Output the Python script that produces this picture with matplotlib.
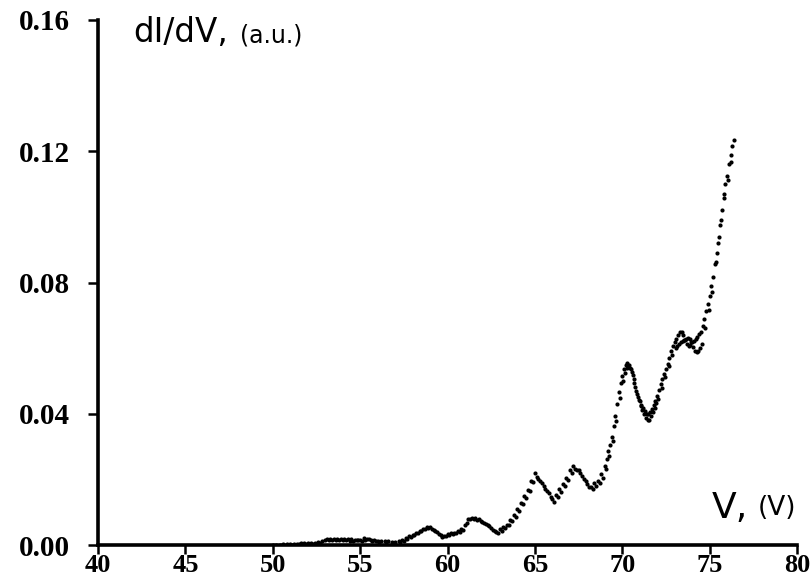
import matplotlib
matplotlib.use("Agg")
import matplotlib.pyplot as plt

# Tunneling spectrum: dI/dV versus bias voltage, two overlapping sweeps
sweep_a_v = [50.0, 50.2, 50.4, 50.6, 50.8, 51.0, 51.2, 51.4, 51.6, 51.8,
             52.0, 52.2, 52.4, 52.6, 52.8, 53.0, 53.2, 53.4, 53.6, 53.8,
             54.0, 54.2, 54.4, 54.6, 54.8, 55.0, 55.2, 55.4, 55.6, 55.8,
             56.0, 56.2, 56.4, 56.6, 56.8, 57.0, 57.2, 57.4, 57.6, 57.8,
             58.0, 58.2, 58.4, 58.6, 58.8, 59.0, 59.2, 59.4, 59.6, 59.8,
             60.0, 60.2, 60.4, 60.6, 60.8, 61.0, 61.2, 61.4, 61.6, 61.8,
             62.0, 62.2, 62.4, 62.6, 62.8, 63.0, 63.2, 63.4, 63.6, 63.8,
             64.0, 64.2, 64.4, 64.6, 64.8, 65.0, 65.2, 65.4, 65.6, 65.8,
             66.0, 66.2, 66.4, 66.6, 66.8, 67.0, 67.2, 67.4, 67.6, 67.8,
             68.0, 68.2, 68.4, 68.6, 68.8, 69.0, 69.1, 69.2, 69.3, 69.4,
             69.5, 69.6, 69.7, 69.8, 69.9, 70.0, 70.1, 70.2, 70.3, 70.4,
             70.5, 70.6, 70.7, 70.8, 70.9, 71.0, 71.1, 71.2, 71.3, 71.4,
             71.5, 71.6, 71.7, 71.8, 71.9, 72.0, 72.1, 72.2, 72.3, 72.4,
             72.5, 72.6, 72.7, 72.8, 72.9, 73.0, 73.1, 73.2, 73.3, 73.4,
             73.5, 73.6, 73.7, 73.8, 73.9, 74.0, 74.1, 74.2, 74.3, 74.4,
             74.5, 74.6, 74.7, 74.8, 74.9, 75.0, 75.1, 75.2, 75.3, 75.4,
             75.5, 75.6, 75.7, 75.8, 75.9, 76.0, 76.1, 76.2, 76.3, 76.4]
sweep_a_g = [0.0000, 0.0001, 0.0001, 0.0002, 0.0002, 0.0003, 0.0004, 0.0004, 0.0005, 0.0005,
             0.0006, 0.0006, 0.0007, 0.0008, 0.0012, 0.0015, 0.0016, 0.0016, 0.0016, 0.0015,
             0.0015, 0.0014, 0.0013, 0.0013, 0.0014, 0.0016, 0.0020, 0.0017, 0.0014, 0.0015,
             0.0013, 0.0012, 0.0012, 0.0011, 0.0010, 0.0009, 0.0011, 0.0015, 0.0020, 0.0026,
             0.0032, 0.0037, 0.0042, 0.0050, 0.0056, 0.0054, 0.0047, 0.0040, 0.0030, 0.0028,
             0.0033, 0.0036, 0.0038, 0.0042, 0.0048, 0.0060, 0.0078, 0.0083, 0.0082, 0.0078,
             0.0071, 0.0065, 0.0058, 0.0046, 0.0040, 0.0048, 0.0056, 0.0062, 0.0075, 0.0090,
             0.0110, 0.0128, 0.0148, 0.0168, 0.0195, 0.0220, 0.0200, 0.0188, 0.0172, 0.0158,
             0.0140, 0.0152, 0.0170, 0.0185, 0.0205, 0.0228, 0.0240, 0.0230, 0.0218, 0.0200,
             0.0185, 0.0178, 0.0188, 0.0195, 0.0215, 0.0240, 0.0262, 0.0285, 0.0305, 0.0330,
             0.0362, 0.0392, 0.0430, 0.0465, 0.0495, 0.0515, 0.0535, 0.0550, 0.0556, 0.0548,
             0.0535, 0.0518, 0.0495, 0.0470, 0.0452, 0.0440, 0.0428, 0.0418, 0.0408, 0.0400,
             0.0398, 0.0405, 0.0415, 0.0428, 0.0440, 0.0455, 0.0472, 0.0490, 0.0505, 0.0520,
             0.0535, 0.0552, 0.0570, 0.0590, 0.0605, 0.0618, 0.0628, 0.0640, 0.0648, 0.0650,
             0.0640, 0.0625, 0.0612, 0.0605, 0.0610, 0.0618, 0.0622, 0.0628, 0.0635, 0.0642,
             0.0650, 0.0668, 0.0690, 0.0712, 0.0735, 0.0760, 0.0790, 0.0818, 0.0855, 0.0890,
             0.0920, 0.0975, 0.1020, 0.1070, 0.1100, 0.1125, 0.1160, 0.1190, 0.1215, 0.1235]

sweep_b_v = [51.1, 51.5, 51.9, 52.3, 52.7, 53.1, 53.3, 53.5, 53.7, 53.9,
             54.1, 54.3, 54.5, 54.7, 54.9, 55.1, 55.3, 55.5, 55.7, 55.9,
             56.1, 56.5, 56.9, 57.3, 57.5, 57.7, 57.9, 58.1, 58.3, 58.5,
             58.7, 58.9, 59.1, 59.3, 59.5, 59.7, 59.9, 60.1, 60.3, 60.5,
             60.7, 60.9, 61.1, 61.3, 61.5, 61.7, 61.9, 62.1, 62.3, 62.5,
             62.7, 62.9, 63.1, 63.3, 63.5, 63.7, 63.9, 64.1, 64.3, 64.5,
             64.7, 64.9, 65.1, 65.3, 65.5, 65.7, 65.9, 66.1, 66.3, 66.5,
             66.7, 66.9, 67.1, 67.3, 67.5, 67.7, 67.9, 68.1, 68.3, 68.5,
             68.7, 68.9, 69.05, 69.25, 69.45, 69.65, 69.85, 70.05, 70.15, 70.25,
             70.35, 70.45, 70.55, 70.65, 70.75, 70.85, 70.95, 71.05, 71.15, 71.25,
             71.35, 71.45, 71.55, 71.65, 71.75, 71.85, 71.95, 72.05, 72.25, 72.45,
             72.65, 72.85, 73.05, 73.15, 73.25, 73.35, 73.45, 73.55, 73.65, 73.75,
             73.85, 73.95, 74.05, 74.15, 74.25, 74.35, 74.45, 74.55, 74.75, 74.95,
             75.15, 75.35, 75.55, 75.65, 75.85, 76.05, 76.25]
sweep_b_g = [0.0001, 0.0002, 0.0003, 0.0004, 0.0006, 0.0018, 0.0019, 0.0019, 0.0018, 0.0018,
             0.0018, 0.0017, 0.0017, 0.0016, 0.0015, 0.0013, 0.0015, 0.0018, 0.0013, 0.0011,
             0.0010, 0.0008, 0.0007, 0.0009, 0.0013, 0.0018, 0.0024, 0.0030, 0.0036, 0.0043,
             0.0050, 0.0052, 0.0049, 0.0043, 0.0034, 0.0025, 0.0027, 0.0031, 0.0034, 0.0036,
             0.0041, 0.0047, 0.0066, 0.0080, 0.0079, 0.0076, 0.0074, 0.0068, 0.0062, 0.0052,
             0.0042, 0.0036, 0.0042, 0.0052, 0.0060, 0.0072, 0.0086, 0.0104, 0.0124, 0.0142,
             0.0166, 0.0192, 0.0206, 0.0195, 0.0180, 0.0166, 0.0146, 0.0132, 0.0146, 0.0163,
             0.0180, 0.0198, 0.0218, 0.0232, 0.0228, 0.0210, 0.0194, 0.0176, 0.0170, 0.0180,
             0.0188, 0.0205, 0.0232, 0.0270, 0.0318, 0.0378, 0.0448, 0.0500, 0.0525, 0.0540,
             0.0545, 0.0540, 0.0528, 0.0505, 0.0482, 0.0460, 0.0442, 0.0425, 0.0410, 0.0398,
             0.0386, 0.0380, 0.0382, 0.0392, 0.0405, 0.0418, 0.0432, 0.0445, 0.0478, 0.0512,
             0.0545, 0.0578, 0.0600, 0.0608, 0.0612, 0.0618, 0.0622, 0.0624, 0.0628, 0.0632,
             0.0628, 0.0620, 0.0602, 0.0592, 0.0588, 0.0592, 0.0600, 0.0612, 0.0660, 0.0715,
             0.0770, 0.0862, 0.0940, 0.0990, 0.1058, 0.1112, 0.1168]

x_ticks = [40, 45, 50, 55, 60, 65, 70, 75, 80]
y_ticks = [0.00, 0.04, 0.08, 0.12, 0.16]

fig = plt.figure(figsize=(8.11, 5.82), dpi=100)
ax = fig.add_axes([98 / 811, 37 / 582, 699 / 811, 525 / 582])

for vv, gg in ((sweep_a_v, sweep_a_g), (sweep_b_v, sweep_b_g)):
    ax.plot(vv, gg, linestyle="none", marker="o", markersize=3.0,
            markeredgewidth=0, color="black")

ax.set_xlim(40, 80)
ax.set_ylim(0, 0.16)
ax.set_xticks(x_ticks)
ax.set_xticklabels([str(t) for t in x_ticks])
ax.set_yticks(y_ticks)
ax.set_yticklabels([f"{t:.2f}" for t in y_ticks])

for side in ("top", "right"):
    ax.spines[side].set_visible(False)
for side in ("left", "bottom"):
    ax.spines[side].set_linewidth(2.6)
    ax.spines[side].set_color("black")
    ax.spines[side].set_capstyle("projecting")

ax.tick_params(axis="both", direction="out", width=1.8, color="black")
ax.tick_params(axis="y", length=7.5, pad=13)
ax.tick_params(axis="x", length=6.5, pad=0)
for lab in ax.get_yticklabels():
    lab.set_fontfamily("Liberation Serif")
    lab.set_fontsize(21)
    lab.set_fontweight("semibold")
for lab in ax.get_xticklabels():
    lab.set_fontfamily("Liberation Serif")
    lab.set_fontsize(19)
    lab.set_fontweight("semibold")

# Axis captions
fig.text(133 / 811, (582 - 42) / 582, "dI/dV,", fontsize=23.5,
         family="DejaVu Sans", va="baseline", ha="left")
fig.text(240 / 811, (582 - 43) / 582, "(a.u.)", fontsize=17,
         family="DejaVu Sans", va="baseline", ha="left")
fig.text(712 / 811, (582 - 518) / 582, "V,", fontsize=26,
         family="DejaVu Sans", va="baseline", ha="left")
fig.text(796 / 811, (582 - 515) / 582, "(V)", fontsize=19,
         family="DejaVu Sans", va="baseline", ha="right")

fig.savefig("out.png", dpi=100, facecolor="white")
